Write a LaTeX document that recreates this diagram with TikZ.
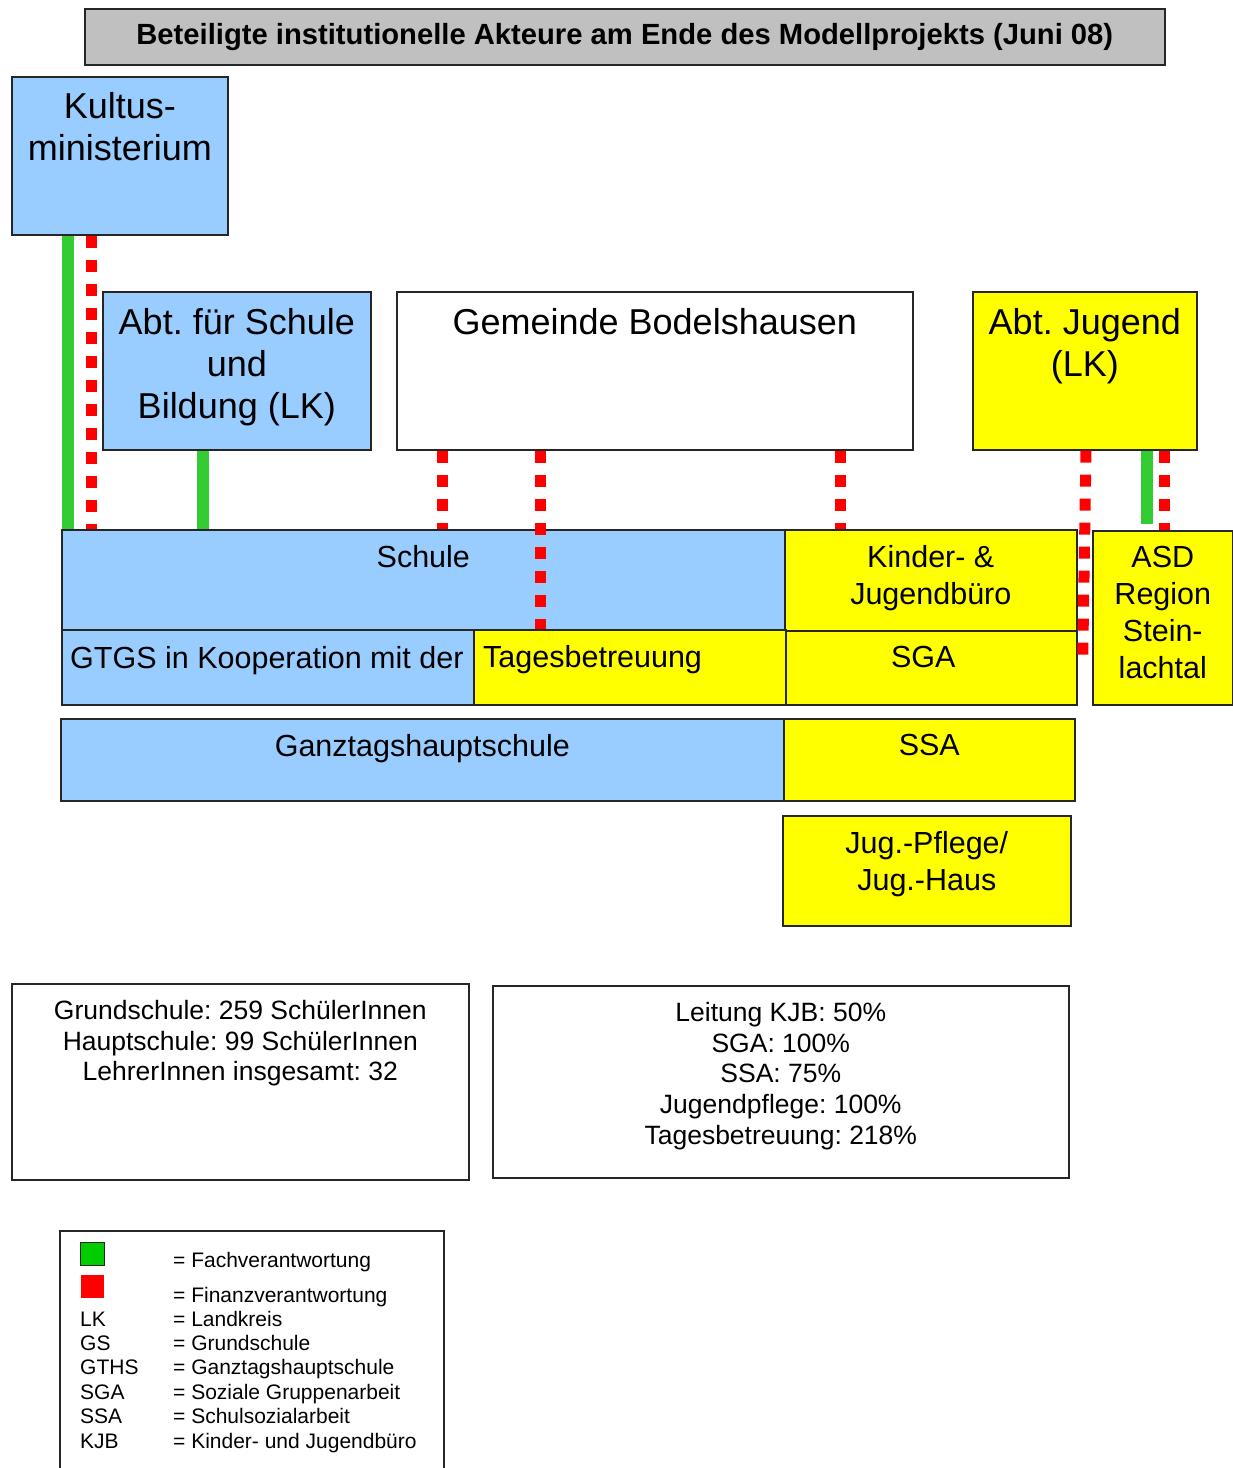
\documentclass[tikz,border=0pt]{standalone}
\usepackage{fontspec}
\setmainfont{Liberation Sans}
\usetikzlibrary{positioning}
\definecolor{boxblue}{RGB}{153,204,255}
\definecolor{boxyellow}{RGB}{255,255,0}
\definecolor{fachgreen}{RGB}{51,204,51}
\definecolor{leggreen}{RGB}{0,204,0}
\definecolor{finanzred}{RGB}{255,0,0}
\definecolor{titlegray}{RGB}{192,192,192}
\frenchspacing

\begin{document}
\begin{tikzpicture}[x=1pt, y=-1pt]
    \tikzstyle{box} = [rectangle, draw=black!85, line width=1.6pt, anchor=north west, inner sep=0pt]
    \tikzstyle{big} = [font=\fontsize{36}{42}\selectfont, align=center, inner sep=0pt, anchor=north]
    \tikzstyle{mid} = [font=\fontsize{30.5}{37}\selectfont, align=center, inner sep=0pt, anchor=north]
    \tikzstyle{small} = [font=\fontsize{26.5}{30.7}\selectfont, align=center, inner sep=0pt, anchor=north]
    \tikzstyle{leg} = [font=\fontsize{21}{24.5}\selectfont, inner sep=0pt, anchor=base west]
    \tikzstyle{fach} = [draw=fachgreen, line width=12pt]
    \tikzstyle{finanz} = [draw=finanzred, line width=11pt, dash pattern=on 12pt off 12pt]

    \useasboundingbox (0,0) rectangle (1233,1468);

    % Title
    \node[box, fill=titlegray, minimum width=1080pt, minimum height=56pt, font=\bfseries\fontsize{29.2}{34}\selectfont] (title) at (84,8) {Beteiligte institutionelle Akteure am Ende des Modellprojekts (Juni 08)};

    % Upper level
    \node[box, fill=boxblue, minimum width=216pt, minimum height=158pt] (kultus) at (11,76) {};
    \node[box, fill=boxblue, minimum width=268pt, minimum height=158pt] (abtschule) at (102,291) {};
    \node[box, fill=white, minimum width=516pt, minimum height=158pt] (gemeinde) at (396,291) {};
    \node[box, fill=boxyellow, minimum width=224pt, minimum height=158pt] (abtjugend) at (972,291) {};

    \node[big, below=16pt of kultus.north] (kultustxt) {Kultus-\\ministerium};
    \node[big, below=17pt of abtschule.north] (abtschuletxt) {Abt. für Schule\\und\\Bildung (LK)};
    \node[big, below=17pt of gemeinde.north] (gemeindetxt) {Gemeinde Bodelshausen};
    \node[big, below=17pt of abtjugend.north] (abtjugendtxt) {Abt. Jugend\\(LK)};

    % Schule and partners
    \node[box, fill=boxblue, minimum width=723pt, minimum height=100pt] (schule) at (61,529) {};
    \node[box, fill=boxyellow, minimum width=292pt, minimum height=101pt] (kjb) at (784,529) {};
    \node[box, fill=boxblue, minimum width=412pt, minimum height=75pt] (gtgs) at (61,629) {};
    \node[box, fill=boxyellow, minimum width=312pt, minimum height=75pt] (tages) at (473,629) {};
    \node[box, fill=boxyellow, minimum width=291pt, minimum height=74pt] (sga) at (785,630) {};
    \node[box, fill=boxyellow, minimum width=140pt, minimum height=174pt] (asd) at (1092,530) {};
    \node[box, fill=boxblue, minimum width=723pt, minimum height=82pt] (gths) at (60,718) {};
    \node[box, fill=boxyellow, minimum width=291pt, minimum height=82pt] (ssa) at (783,718) {};
    \node[box, fill=boxyellow, minimum width=288pt, minimum height=110pt] (jugpflege) at (782,815) {};

    \node[mid, below=16pt of schule.north] (schuletxt) {Schule};
    \node[mid, below=16pt of kjb.north] (kjbtxt) {Kinder- \&\\Jugendbüro};
    \node[mid, below right=17pt and 9pt of gtgs.north west] (gtgstxt) {GTGS in Kooperation mit der};
    \node[mid, below right=16pt and 10pt of tages.north west] (tagestxt) {Tagesbetreuung};
    \node[mid, below=16pt of sga.north, xshift=-8pt] (sgatxt) {SGA};
    \node[mid, below=16pt of asd.north] (asdtxt) {ASD\\Region\\Stein-\\lachtal};
    \node[mid, below=16pt of gths.north] (gthstxt) {Ganztagshauptschule};
    \node[mid, below=16pt of ssa.north] (ssatxt) {SSA};
    \node[mid, below=16pt of jugpflege.north] (jugpflegetxt) {Jug.-Pflege/\\Jug.-Haus};

    % Connections
    \draw[fach] ([xshift=57pt]kultus.south west) -- ([xshift=7pt]schule.north west);
    \draw[finanz] ([xshift=80pt]kultus.south west) -- ([xshift=30pt]schule.north west);
    \draw[fach] ([xshift=101pt]abtschule.south west) -- ([xshift=142pt]schule.north west);
    \draw[finanz] ([xshift=46pt]gemeinde.south west) -- ([xshift=381pt]schule.north west);
    \draw[finanz] ([xshift=144pt]gemeinde.south west) -- ([xshift=67pt]tages.north west);
    \draw[finanz] ([xshift=444pt]gemeinde.south west) -- ([xshift=56pt]kjb.north west);
    \draw[finanz] ([xshift=114pt]abtjugend.south west) -- ([xshift=5pt,yshift=2pt]sga.east);
    \draw[fach] ([xshift=175pt]abtjugend.south west) -- ([xshift=55pt,yshift=6pt]asd.north west);
    \draw[finanz] ([xshift=192pt]abtjugend.south west) -- ([xshift=72pt]asd.north west);

    % Numbers
    \node[box, fill=white, minimum width=457pt, minimum height=196pt] (zahlen) at (11,983) {};
    \node[box, fill=white, minimum width=576pt, minimum height=192pt] (stellen) at (492,985) {};
    \node[small, below=17pt of zahlen.north] (zahlentxt) {Grundschule: 259 SchülerInnen\\Hauptschule: 99 SchülerInnen\\LehrerInnen insgesamt: 32};
    \node[small, below=17pt of stellen.north] (stellentxt) {Leitung KJB: 50\%\\SGA: 100\%\\SSA: 75\%\\Jugendpflege: 100\%\\Tagesbetreuung: 218\%};

    % Legend
    \node[box, fill=white, minimum width=384pt, minimum height=250pt] (legende) at (59,1230) {};
    \node[box, fill=leggreen, line width=1pt, minimum width=24pt, minimum height=23pt] (lgreen) at (80,1242) {};
    \node[box, draw=none, fill=finanzred, minimum width=23pt, minimum height=23pt] (lred) at (80,1274) {};
    \node[leg] (lfach) at (173,1267) {= Fachverantwortung};
    \node[leg] (lfinanz) at (173,1302) {= Finanzverantwortung};
    \node[leg] (llk) at (80,1326) {LK};
    \node[leg] (llktxt) at (173,1326) {= Landkreis};
    \node[leg] (lgs) at (80,1350) {GS};
    \node[leg] (lgstxt) at (173,1350) {= Grundschule};
    \node[leg] (lgths) at (80,1374) {GTHS};
    \node[leg] (lgthstxt) at (173,1374) {= Ganztagshauptschule};
    \node[leg] (lsga) at (80,1399) {SGA};
    \node[leg] (lsgatxt) at (173,1399) {= Soziale Gruppenarbeit};
    \node[leg] (lssa) at (80,1423) {SSA};
    \node[leg] (lssatxt) at (173,1423) {= Schulsozialarbeit};
    \node[leg] (lkjb) at (80,1448) {KJB};
    \node[leg] (lkjbtxt) at (173,1448) {= Kinder- und Jugendbüro};
\end{tikzpicture}
\end{document}
